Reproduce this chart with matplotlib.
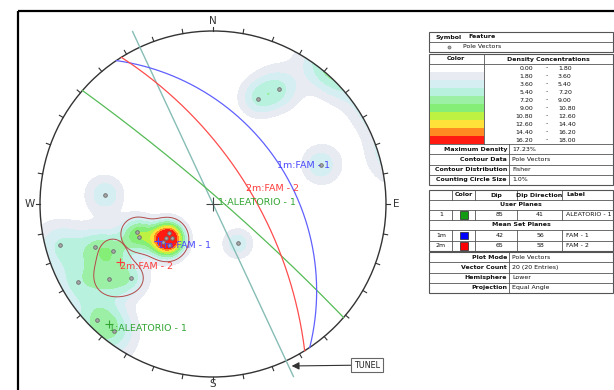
import numpy as np
import matplotlib.pyplot as plt
from matplotlib.patches import Circle, Rectangle

plt.rcParams['font.family'] = 'DejaVu Sans'

# pole vectors (lower hemisphere), degrees
pole_trend = [23, 30, 70, 275, 255, 250, 246, 237, 230, 250,
              245, 234, 228, 240, 148, 225, 218, 233, 227, 234]
pole_plunge = [23, 15, 23, 26, 5, 40, 40, 56, 56, 18,
               25, 17, 25, 6, 60, 3, 4, 50, 52, 53]

# poles inside each set window
set_members = [[5, 6, 7, 8, 17, 18, 19], [10, 11, 12]]

# planes: user plane + mean set planes
plane_ids = ['1', '1m', '2m']
plane_labels = ['ALEATORIO - 1', 'FAM - 1', 'FAM - 2']
plane_dip = [85, 42, 65]
plane_dipdir = [41, 56, 58]
plane_colors = ['#55bb55', '#6060ff', '#ff4c4c']
text_colors = ['#33a533', '#4848ff', '#ff3a3a']
square_colors = ['#139a13', '#0000ff', '#ff0000']

tunnel_trend = 155

density_levels = [0.0, 1.8, 3.6, 5.4, 7.2, 9.0, 10.8, 12.6, 14.4, 16.2, 18.0]
density_colors = ['#ffffff', '#e8ecf2', '#d5eef1', '#b8f1dd', '#9cf0a6',
                  '#84ee76', '#bdf243', '#ffe13a', '#ff8a22', '#ff1a12']
fisher_k = 80

info_rows = [('Maximum Density', '17.23%'), ('Contour Data', 'Pole Vectors'),
             ('Contour Distribution', 'Fisher'), ('Counting Circle Size', '1.0%')]
plot_rows = [('Plot Mode', 'Pole Vectors'), ('Vector Count', '20 (20 Entries)'),
             ('Hemisphere', 'Lower'), ('Projection', 'Equal Angle')]


def to_vec(trend, plunge):
    t, p = np.radians(trend), np.radians(plunge)
    return np.cos(p) * np.sin(t), np.cos(p) * np.cos(t), np.sin(p)


def project(e, n, d):
    # equal angle (stereographic), lower hemisphere
    return e / (1 + d), n / (1 + d)


W, H = 614, 390
fig = plt.figure(figsize=(W / 100, H / 100), dpi=100)

# pixel-space layer for frame and legend tables
bg = fig.add_axes([0, 0, 1, 1])
bg.set_xlim(0, W)
bg.set_ylim(H, 0)
bg.axis('off')

cx, cy, R = 213, 204, 173
span = 1.2
net = fig.add_axes([(cx - span * R) / W, (H - cy - span * R) / H,
                    2 * span * R / W, 2 * span * R / H])
net.set_xlim(-span, span)
net.set_ylim(-span, span)
net.axis('off')
net.patch.set_alpha(0)

# frame
bg.add_patch(Rectangle((18, 10.5), 640, 420, fill=False, ec='black', lw=1.6))

# ---- density contours (Fisher smoothing) ----
g = np.linspace(-1.03, 1.03, 421)
X, Y = np.meshgrid(g, g)
r2 = X ** 2 + Y ** 2
E, N, D = 2 * X / (1 + r2), 2 * Y / (1 + r2), (1 - r2) / (1 + r2)
pe, pn, pd = to_vec(np.array(pole_trend), np.array(pole_plunge))
dots = np.abs(E[..., None] * pe + N[..., None] * pn + D[..., None] * pd)
weights = 100.0 / len(pole_trend) * np.exp(fisher_k * (dots - 1))
dens = np.minimum(weights.sum(-1), 17.99)

cs = net.contourf(X, Y, dens, levels=density_levels, colors=density_colors)
cs.set_clip_path(Circle((0, 0), 1, transform=net.transData))

# set window outlines
for members in set_members:
    sd = weights[..., members].sum(-1)
    ol = net.contour(X, Y, sd, levels=[3.6], colors='#b54848', linewidths=0.7)
    ol.set_clip_path(Circle((0, 0), 1, transform=net.transData))

# tunnel axis
tt = np.radians(tunnel_trend)
tl = np.array([-1.1, 1.1])
net.plot(tl * np.sin(tt), tl * np.cos(tt), color='#86bdb5', lw=1.0)

# ---- great circles ----
phi = np.linspace(0, np.pi, 361)
for dip, dd, col in zip(plane_dip, plane_dipdir, plane_colors):
    a, dp = np.radians(dd), np.radians(dip)
    s = np.array([np.sin(a - np.pi / 2), np.cos(a - np.pi / 2), 0.0])
    dv = np.array([np.cos(dp) * np.sin(a), np.cos(dp) * np.cos(a), np.sin(dp)])
    v = np.outer(np.cos(phi), s) + np.outer(np.sin(phi), dv)
    gx, gy = project(v[:, 0], v[:, 1], v[:, 2])
    net.plot(gx, gy, color=col, lw=0.9)

# primitive, ticks and compass labels
net.add_patch(Circle((0, 0), 1, fill=False, ec='#333333', lw=1.0))
for az in range(0, 360, 10):
    t = np.radians(az)
    net.plot([np.sin(t), 1.025 * np.sin(t)], [np.cos(t), 1.025 * np.cos(t)],
             color='#333333', lw=0.8)
for lab, az, rr in zip('NESW', [0, 90, 180, 270], [1.06, 1.06, 1.042, 1.06]):
    t = np.radians(az)
    net.text(rr * np.sin(t), rr * np.cos(t), lab, ha='center', va='center',
             fontsize=7.5, color='#333333')

# poles
px, py = project(pe, pn, pd)
net.plot(px, py, 'o', ms=2.6, mfc='#a8a8a8', mec='#6a6a6a', mew=0.6, ls='none')

# plane labels on the great circles and at their poles
net.plot(0, 0, '+', ms=10, mew=0.8, color='#444444')
for pid, lab, dip, dd, col in zip(plane_ids, plane_labels, plane_dip, plane_dipdir, text_colors):
    ax_, ay_ = project(*to_vec(dd, dip))
    qx, qy = project(*to_vec(dd + 180, 90 - dip))
    name = f'{pid}:{lab}'
    net.text(ax_, ay_, name, color=col, fontsize=6.8, ha='left', va='top')
    net.plot(qx, qy, '+', ms=6, mew=0.8, color=col)
    net.text(qx, qy, name, color=col, fontsize=6.8, ha='left', va='top')

# tunnel callout
tip = (1.033 * np.sin(tt) + 0.018, 1.033 * np.cos(tt))
net.annotate('TUNEL', xy=tip, xytext=(0.89, -0.931), ha='center', va='center',
             fontsize=5.8, color='#222222',
             bbox=dict(boxstyle='square,pad=0.35', fc='white', ec='#666666', lw=0.8),
             arrowprops=dict(arrowstyle='-|>', color='#333333', lw=0.8,
                             mutation_scale=11, shrinkA=0, shrinkB=0))

# ---- legend tables ----
lc = '#555555'
tc = '#111111'
fs = 4.5
x0, x1 = 429, 613


def box(xa, ya, xb, yb):
    bg.add_patch(Rectangle((xa, ya), xb - xa, yb - ya, fill=False, ec=lc, lw=0.8))


def hline(y, xa=x0, xb=x1):
    bg.plot([xa, xb], [y, y], color=lc, lw=0.6)


def vline(x, ya, yb):
    bg.plot([x, x], [ya, yb], color=lc, lw=0.6)


def txt(x, y, s, ha='left', bold=False):
    bg.text(x, y, s, ha=ha, va='center', fontsize=fs, color=tc,
            fontweight='bold' if bold else 'normal')


# feature table
box(x0, 32, x1, 52)
hline(42)
txt(435, 37, 'Symbol', bold=True)
txt(468, 37, 'Feature', bold=True)
bg.plot(449, 47, 'o', ms=2.2, mfc='#a8a8a8', mec='#6a6a6a', mew=0.5)
txt(463, 47, 'Pole Vectors')

# density table
band_h = 8
top = 64
box(x0, 54, x1, 185)
hline(top)
vline(484, 54, top + band_h * len(density_colors))
txt(456, 59, 'Color', ha='center', bold=True)
txt(548, 59, 'Density Concentrations', ha='center', bold=True)
for i, col in enumerate(density_colors):
    yb = top + i * band_h
    bg.add_patch(Rectangle((x0 + 0.5, yb), 484 - x0 - 0.5, band_h, fc=col, ec='none'))
    yc = yb + band_h / 2
    txt(533, yc, f'{density_levels[i]:.2f}', ha='right')
    txt(547, yc, '-', ha='center')
    txt(558, yc, f'{density_levels[i + 1]:.2f}')
ytab = top + band_h * len(density_colors)
row_h = (185 - ytab) / len(info_rows)
for i, (k, v) in enumerate(info_rows):
    ya = ytab + i * row_h
    hline(ya)
    txt(507, ya + row_h / 2, k, ha='right', bold=True)
    txt(512, ya + row_h / 2, v)
vline(509, ytab, 185)

# planes table
cols = [452, 475, 517, 562]
box(x0, 190, x1, 251)
for y in [200, 210, 220, 230, 240.5]:
    hline(y)
for c in cols:
    vline(c, 190, 200)
    vline(c, 210, 220)
    vline(c, 230, 251)
txt(463.5, 195, 'Color', ha='center', bold=True)
txt(496, 195, 'Dip', ha='center', bold=True)
txt(539.5, 195, 'Dip Direction', ha='center', bold=True)
txt(566, 195, 'Label', bold=True)
txt(521, 205, 'User Planes', ha='center', bold=True)
txt(521, 225, 'Mean Set Planes', ha='center', bold=True)
row_y = [215, 235.3, 245.8]
for pid, lab, dip, dd, sq, yc in zip(plane_ids, plane_labels, plane_dip, plane_dipdir,
                                     square_colors, row_y):
    txt(441, yc, pid, ha='center')
    bg.add_patch(Rectangle((459.5, yc - 3.8), 8, 7.6, fc=sq, ec='#222222', lw=0.5))
    txt(500, yc, str(dip), ha='center')
    txt(540, yc, str(dd), ha='center')
    txt(566, yc, lab)

# plot settings table
box(x0, 252, x1, 293)
ph = (293 - 252) / len(plot_rows)
for i, (k, v) in enumerate(plot_rows):
    ya = 252 + i * ph
    if i:
        hline(ya)
    txt(507, ya + ph / 2, k, ha='right', bold=True)
    txt(512, ya + ph / 2, v)
vline(509, 252, 293)

fig.savefig('out.png', dpi=100)
